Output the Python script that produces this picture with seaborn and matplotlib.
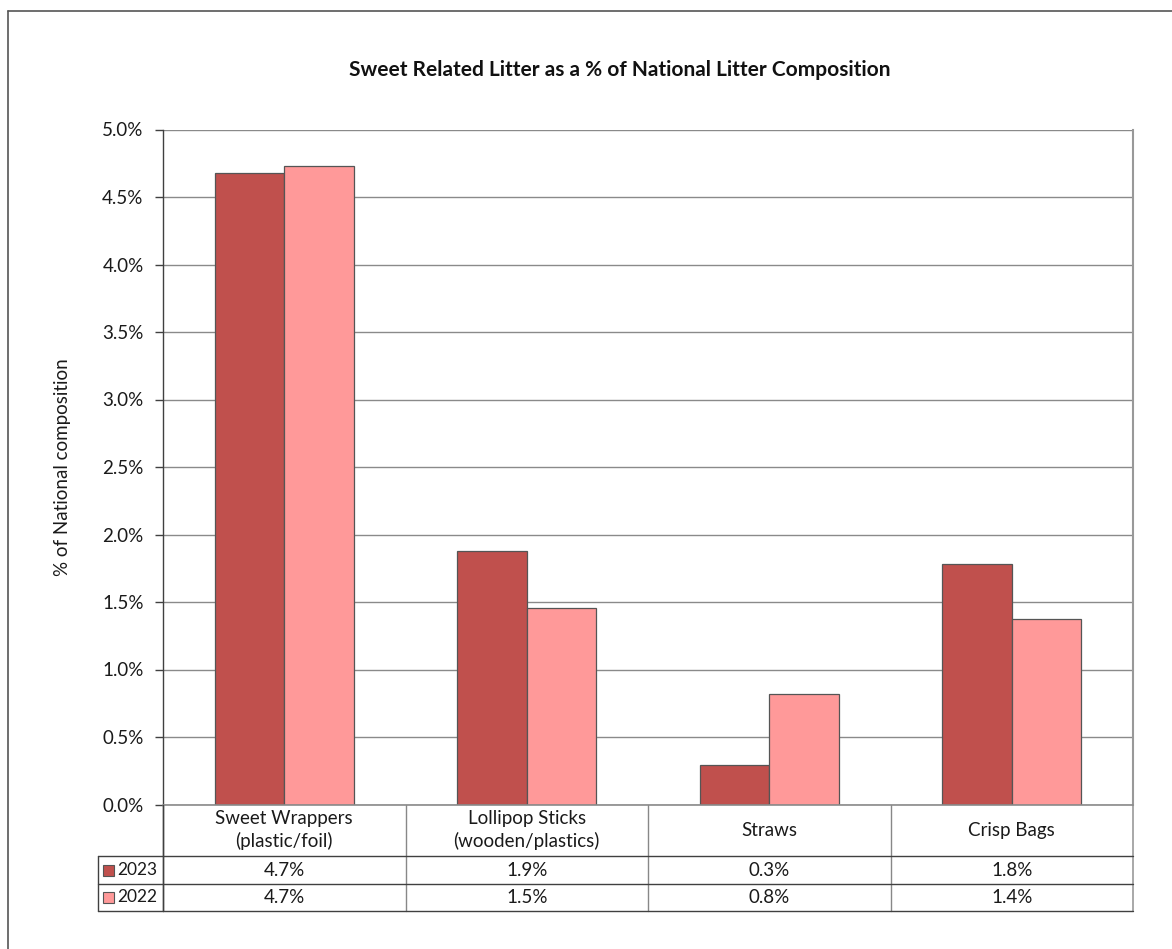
import matplotlib
matplotlib.use("Agg")
import matplotlib.pyplot as plt
import matplotlib.transforms as mtransforms
from matplotlib.patches import Rectangle
import seaborn as sns
import pandas as pd

categories = ["Sweet Wrappers\n(plastic/foil)", "Lollipop Sticks\n(wooden/plastics)", "Straws", "Crisp Bags"]
years = ["2023", "2022"]
values_2023 = [4.68, 1.876, 0.29, 1.784]
values_2022 = [4.73, 1.453, 0.818, 1.372]
table_2023 = ["4.7%", "1.9%", "0.3%", "1.8%"]
table_2022 = ["4.7%", "1.5%", "0.8%", "1.4%"]
yticks = [0.0, 0.5, 1.0, 1.5, 2.0, 2.5, 3.0, 3.5, 4.0, 4.5, 5.0]
colors = {"2023": "#C0504D", "2022": "#FF9999"}

df = pd.DataFrame({
    "category": categories * 2,
    "year": ["2023"] * 4 + ["2022"] * 4,
    "value": values_2023 + values_2022,
})

sns.set_theme(style="white")
plt.rcParams["font.family"] = ["Lato", "DejaVu Sans"]

W, H = 1172, 949
fig = plt.figure(figsize=(W / 100, H / 100), dpi=100)

def fx(px):
    return px / W

def fy(py):
    return 1 - py / H

ax_left, ax_right, ax_top, ax_bottom = 163, 1133, 129.5, 804.5
ax = fig.add_axes([fx(ax_left), fy(ax_bottom), fx(ax_right - ax_left), (ax_bottom - ax_top) / H])

sns.barplot(data=df, x="category", y="value", hue="year", hue_order=years,
            palette=colors, order=categories, width=0.575, gap=0,
            edgecolor="#555555", linewidth=0.9, saturation=1, ax=ax, legend=False, zorder=3)

ax.set_ylim(0, 5.0)
ax.set_xlim(-0.5, 3.5)
ax.set_yticks(yticks)
ax.set_yticklabels([f"{t:.1f}%" for t in yticks], fontsize=13.5, color="#1a1a1a")
ax.set_xticks([])
ax.set_xlabel("")
ax.set_ylabel("% of National composition", fontsize=13.5, color="#1a1a1a", labelpad=22)
ax.yaxis.grid(True, color="#8a8a8a", linewidth=1.0, zorder=0)
ax.set_axisbelow(True)
ax.tick_params(axis="y", which="both", left=True, length=6, width=1, color="#404040", pad=8)
for s in ["top", "bottom"]:
    ax.spines[s].set_visible(False)
ax.spines["left"].set_color("#404040")
ax.spines["left"].set_linewidth(1.0)
ax.spines["right"].set_color("#999999")
ax.spines["right"].set_linewidth(1.5)

# Title
fig.text(fx(620), fy(70), "Sweet Related Litter as a % of National Litter Composition",
         ha="center", va="center", fontsize=15, fontweight="bold", color="#111111")

# Outer frame
fig.add_artist(plt.Line2D([fx(8), fx(8)], [fy(11), 0], color="#555555", lw=1.2))
fig.add_artist(plt.Line2D([fx(8), 1], [fy(11), fy(11)], color="#555555", lw=1.2))

# Data table drawn with blended transform: x data, y figure
trans = mtransforms.blended_transform_factory(ax.transData, fig.transFigure)
x_bounds = [-0.5, 0.5, 1.5, 2.5, 3.5]
row_header_bot, row1_bot, row2_bot = 856, 884, 911
lc = "#404040"
fig.add_artist(plt.Line2D([fx(ax_left), fx(ax_right)], [fy(ax_bottom), fy(ax_bottom)], color="#8a8a8a", lw=1.2))
for yy in [row_header_bot, row1_bot, row2_bot]:
    fig.add_artist(plt.Line2D([fx(98), fx(ax_right)], [fy(yy), fy(yy)], color=lc, lw=1.0))
for i, xb in enumerate(x_bounds):
    col = "#999999" if i == 4 else ("#888888" if i in (1, 2, 3) else lc)
    ax.add_line(plt.Line2D([xb, xb], [fy(ax_bottom), fy(row2_bot)], transform=trans,
                           color=col, lw=1.2 if i == 4 else 1.0, clip_on=False))
fig.add_artist(plt.Line2D([fx(98), fx(98)], [fy(row_header_bot), fy(row2_bot)], color=lc, lw=1.0))
fig.add_artist(plt.Line2D([fx(ax_left), fx(ax_left)], [fy(ax_bottom), fy(row2_bot)], color=lc, lw=1.0))

fs = 13.5
for i, cat in enumerate(categories):
    ax.text(i, fy((ax_bottom + row_header_bot) / 2), cat, transform=trans, ha="center", va="center",
            fontsize=fs, color="#1a1a1a", linespacing=1.3)
    ax.text(i, fy((row_header_bot + row1_bot) / 2), table_2023[i], transform=trans, ha="center",
            va="center", fontsize=fs, color="#1a1a1a")
    ax.text(i, fy((row1_bot + row2_bot) / 2), table_2022[i], transform=trans, ha="center",
            va="center", fontsize=fs, color="#1a1a1a")

for yr, (top, bot) in zip(years, [(row_header_bot, row1_bot), (row1_bot, row2_bot)]):
    yc = (top + bot) / 2
    fig.add_artist(Rectangle((fx(103), fy(yc + 5.5)), fx(11), 11 / H, facecolor=colors[yr],
                             edgecolor="#555555", lw=0.8))
    fig.text(fx(117), fy(yc), yr, ha="left", va="center", fontsize=12.5, color="#1a1a1a")

fig.savefig("out.png", dpi=100, facecolor="white")
